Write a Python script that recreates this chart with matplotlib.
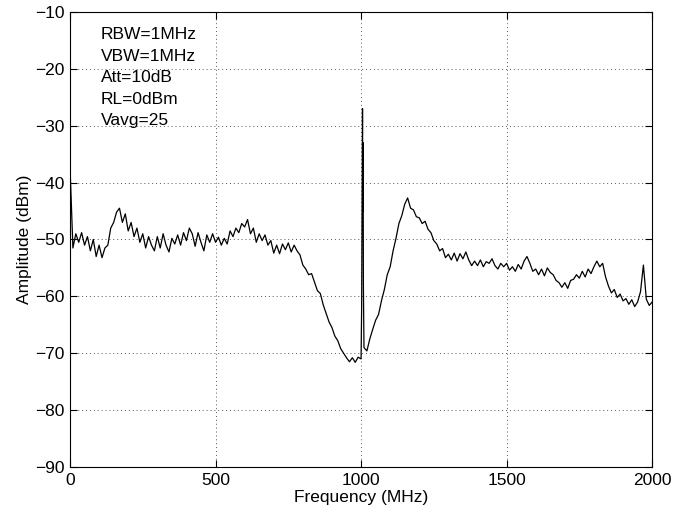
import numpy as np
import matplotlib
matplotlib.use("Agg")
from matplotlib import pyplot as plt

plt.rcParams['font.family'] = ['Liberation Sans', 'DejaVu Sans']

freq = list(range(0, 2001, 10))
amp = [
    -37, -51.5, -49, -50.5, -48.8, -51, -49.5, -52, -50, -53,
    -51, -53.2, -51.5, -51, -48, -47, -45.2, -44.5, -47, -45.5,
    -48.5, -47, -49.5, -48, -50.5, -49, -51.5, -49.5, -51, -52,
    -49.5, -51.5, -49, -51, -52.2, -49.8, -50.8, -49.2, -51, -48.8,
    -50.2, -48, -49, -51.2, -48.8, -50.5, -52, -49.2, -50.5, -49,
    -50.5, -49.6, -51, -49.8, -50.8, -48.5, -49.5, -48, -48.8, -47.2,
    -47.8, -46.5, -49, -48, -50.5, -49, -50.2, -49.2, -51, -50.2,
    -52.4, -51, -52.5, -50.8, -51.8, -50.6, -52.2, -51, -52, -52.7,
    -54.5, -55.2, -56.2, -56, -57.5, -59, -59.5, -61.5, -63, -64.5,
    -65.5, -67, -67.8, -69.2, -70, -70.8, -71.5, -70.8, -71.6, -70.7,
    -71, -69, -69.6, -67.5, -65.8, -64.2, -63.2, -60.8, -58.8, -56.2,
    -54.8, -52, -49.8, -47.2, -45.8, -43.8, -42.7, -44.5, -44.8, -46,
    -46.2, -47.2, -46.8, -48.2, -48.8, -50.2, -50.8, -52, -51.6, -53.2,
    -52.6, -53.6, -52.4, -53.8, -52.5, -53.4, -52.2, -53.6, -54.6, -53.8,
    -54.6, -53.6, -54.8, -53.9, -54.2, -53.4, -54.6, -55.2, -54.2, -54.8,
    -54.2, -55.4, -54.8, -55.6, -54.4, -55.2, -53.8, -53, -54.2, -55.6,
    -55.2, -56.2, -55.2, -56.4, -55, -55.8, -56.2, -57.2, -57.6, -58.4,
    -57.6, -58.6, -57.2, -57, -56.2, -56.8, -55.6, -56.6, -55.2, -56,
    -54.8, -53.8, -54.8, -54.2, -56.6, -58.2, -59.4, -58.8, -60.2, -59.6,
    -60.8, -60.4, -61.4, -60.6, -61.8, -61, -59.2, -54.5, -60.5, -61.6,
    -61,
]

# carrier spike near 1005 MHz
spike_freq = [1002, 1004, 1005, 1006, 1007, 1008]
spike_amp = [-62, -40, -27, -45, -33, -58]

pts = sorted(zip(freq + spike_freq, amp + spike_amp))
f_all = [p[0] for p in pts]
a_all = [p[1] for p in pts]

fig = plt.figure(figsize=(6.73, 5.2), dpi=100)
ax = fig.add_axes([0.104, 0.102, 0.865, 0.875])
ax.plot(f_all, a_all, color='black', linewidth=0.9)

ax.set_xlim(0, 2000)
ax.set_ylim(-90, -10)
ax.set_xticks([0, 500, 1000, 1500, 2000])
ax.set_yticks(range(-90, -9, 10))
ax.grid(True, linestyle=(0, (1, 3)), color='#555555', linewidth=0.7)
ax.tick_params(direction='in', top=True, right=True, labelsize=12.5, length=5, pad=4)
ax.set_xlabel("Frequency (MHz)", fontsize=12.5, labelpad=2)
ax.set_ylabel("Amplitude (dBm)", fontsize=12.5, labelpad=2)

info = ["RBW=1MHz", "VBW=1MHz", "Att=10dB", "RL=0dBm", "Vavg=25"]
for i, s in enumerate(info):
    ax.text(105, -14.0 - i * 3.78, s, fontsize=12.5, va='center', ha='left')

fig.savefig("out.png", dpi=100)
